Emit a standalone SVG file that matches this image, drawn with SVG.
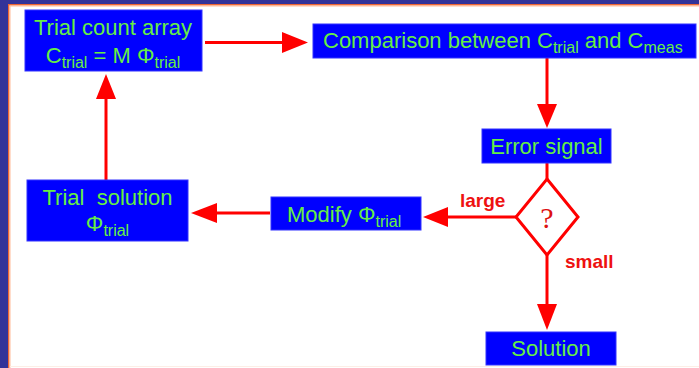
<svg xmlns="http://www.w3.org/2000/svg" width="699" height="368" viewBox="0 0 699 368">
<style>
.box{fill:#0000ff;stroke:#3333ff;stroke-width:1}
.t{font-family:"Liberation Sans",Arial,sans-serif;font-size:22px;fill:#66ee44}
.s{font-size:16px}
.lbl{font-family:"Liberation Sans",Arial,sans-serif;font-size:19px;font-weight:bold;fill:#ee1111}
.ln{stroke:#ff0000;stroke-width:3;fill:none}
</style>
<defs>
<marker id="ah" markerWidth="8" markerHeight="8" refX="8" refY="4" orient="auto" markerUnits="userSpaceOnUse" viewBox="0 0 8 8">
<path d="M0,0 L8,4 L0,8 z" fill="#ff0000"/>
</marker>
</defs>
<rect x="0" y="0" width="699" height="368" fill="#ffffff"/>
<rect x="0" y="0" width="699" height="4" fill="#333399"/>
<rect x="0" y="0" width="8" height="368" fill="#333399"/>
<rect x="8" y="4" width="691" height="1.5" fill="#ee6633"/>
<rect x="8" y="4" width="1.5" height="364" fill="#ee6633"/>
<rect x="9.5" y="5.5" width="689.5" height="1" fill="#ffbb99"/>
<rect x="9.5" y="5.5" width="1" height="362.5" fill="#ffbb99"/>
<rect x="10" y="366" width="689" height="1" fill="#fdeee6"/>
<g id="connectors">
<line class="ln" x1="205" y1="42.5" x2="284" y2="42.5"/>
<path d="M282,32 L308,42.5 L282,53 z" fill="#ff0000"/>
<line class="ln" x1="547" y1="58" x2="547" y2="106"/>
<path d="M537,104 L547,128 L557,104 z" fill="#ff0000"/>
<line class="ln" x1="547" y1="163" x2="547" y2="179"/>
<line class="ln" x1="516" y1="217" x2="446" y2="217"/>
<path d="M448,207 L423,217 L448,227 z" fill="#ff0000"/>
<line class="ln" x1="270" y1="213" x2="215" y2="213"/>
<path d="M217,203 L191,213 L217,223 z" fill="#ff0000"/>
<line class="ln" x1="106" y1="180" x2="106" y2="97"/>
<path d="M96,99 L106,74 L116,99 z" fill="#ff0000"/>
<line class="ln" x1="547" y1="255" x2="547" y2="306"/>
<path d="M537,304 L547,330 L557,304 z" fill="#ff0000"/>
<text class="lbl" x="460" y="207">large</text>
<text class="lbl" x="565" y="268">small</text>
</g>
<g id="trial-count">
<rect class="box" x="25" y="10" width="177" height="61"/>
<text class="t" x="113" y="35" text-anchor="middle">Trial count array</text>
<text class="t" x="113" y="63" text-anchor="middle">C<tspan class="s" dy="5">trial</tspan><tspan dy="-5"> = M Φ</tspan><tspan class="s" dy="5">trial</tspan></text>
</g>
<g id="comparison">
<rect class="box" x="313" y="24" width="383" height="34"/>
<text class="t" x="323" y="48">Comparison between C<tspan class="s" dy="5">trial</tspan><tspan dy="-5"> and C</tspan><tspan class="s" dy="5">meas</tspan></text>
</g>
<g id="error-signal">
<rect class="box" x="482" y="129" width="129" height="34"/>
<text class="t" x="546.5" y="154" text-anchor="middle">Error signal</text>
</g>
<g id="decision">
<path d="M547,179 L578,217 L547,255 L516,217 z" fill="#ffffff" stroke="#ff0000" stroke-width="3"/>
<text x="547" y="228" text-anchor="middle" font-family="'Liberation Serif','Times New Roman',serif" font-size="30" fill="#dd1111">?</text>
</g>
<g id="modify">
<rect class="box" x="271" y="197" width="150" height="33"/>
<text class="t" x="287" y="222">Modify Φ<tspan class="s" dy="5">trial</tspan></text>
</g>
<g id="trial-solution">
<rect class="box" x="27" y="180" width="161" height="61"/>
<text class="t" x="107.5" y="205" text-anchor="middle" xml:space="preserve">Trial  solution</text>
<text class="t" x="107.5" y="231" text-anchor="middle">Φ<tspan class="s" dy="5">trial</tspan></text>
</g>
<g id="solution">
<rect class="box" x="486" y="332" width="130" height="33"/>
<text class="t" x="551" y="356" text-anchor="middle">Solution</text>
</g>
</svg>
